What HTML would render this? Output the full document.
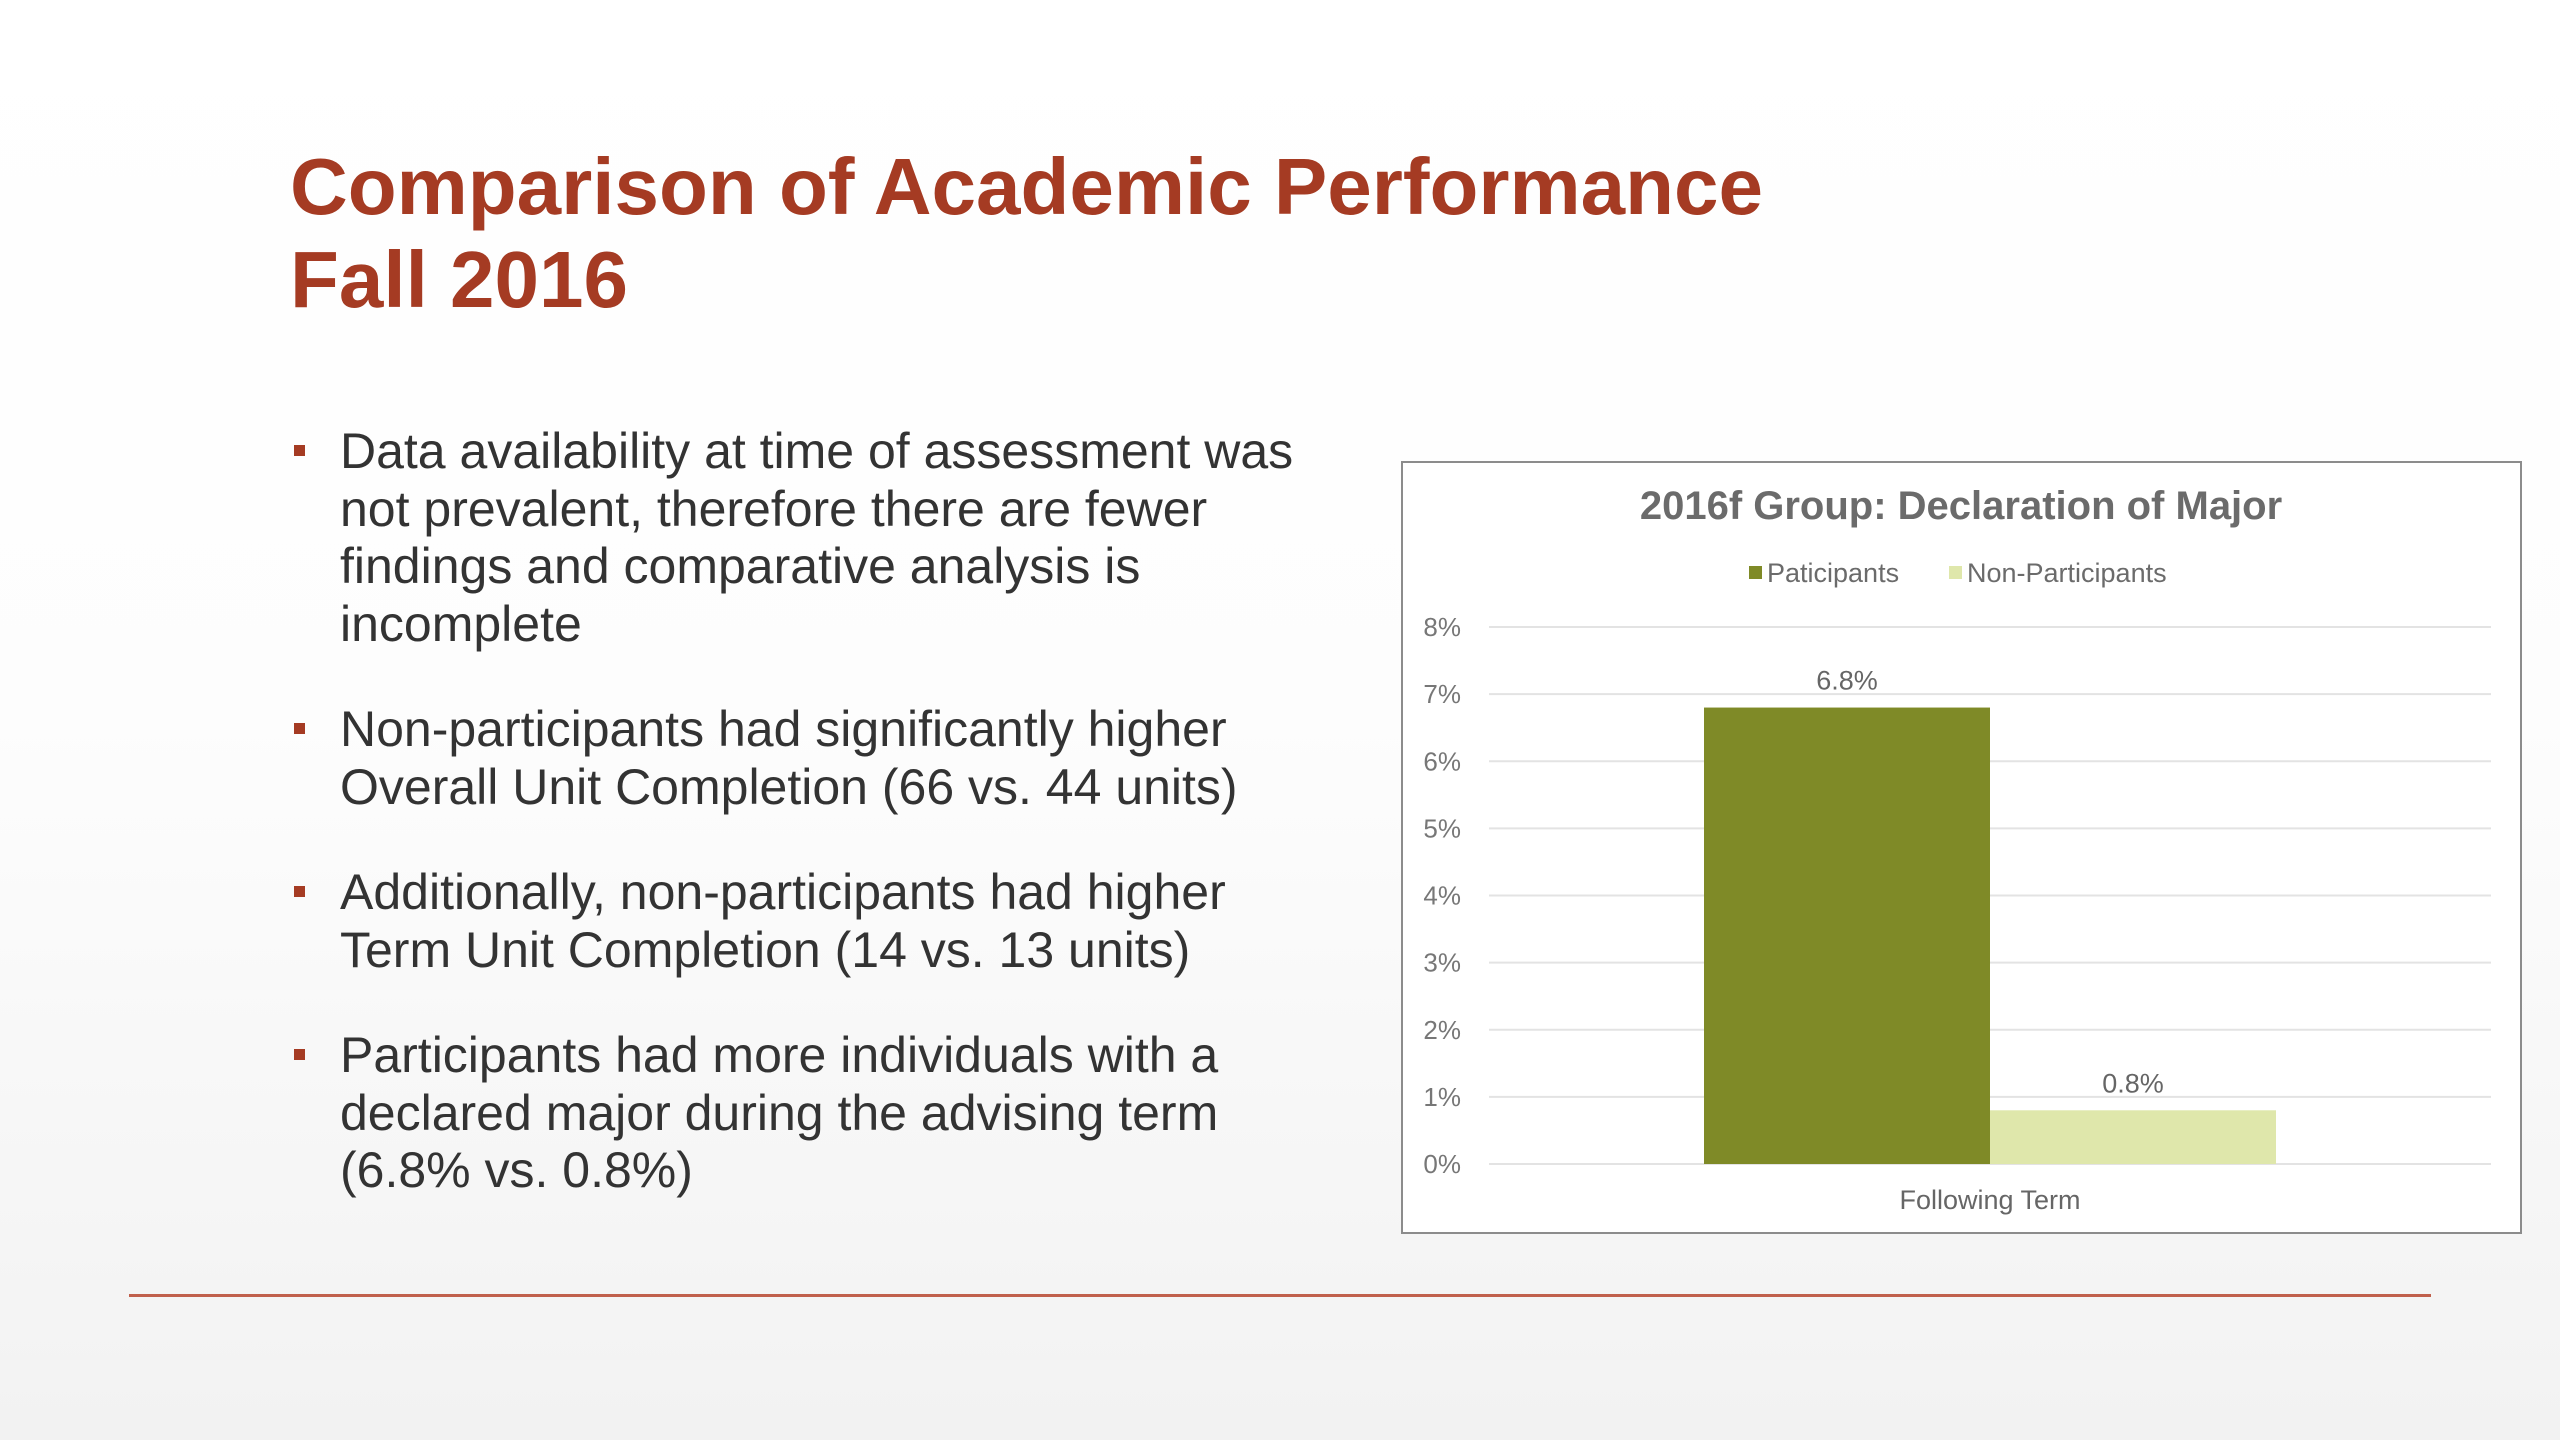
<!DOCTYPE html>
<html><head><meta charset="utf-8"><style>
html,body{margin:0;padding:0}
body{width:2560px;height:1440px;position:relative;overflow:hidden;font-family:"Liberation Sans",Arial,sans-serif;background:linear-gradient(180deg,#ffffff 0%,#fdfdfd 50%,#f2f2f2 100%)}
.title{position:absolute;left:290px;top:140px;color:#A53B23;font-weight:bold;font-size:80px;line-height:93px;margin:0;white-space:nowrap}
.bul{position:absolute;left:340px;color:#333;font-size:50px;line-height:57.5px;white-space:nowrap}
.mark{position:absolute;left:-46px;top:22px;width:11px;height:11px;background:#A53B23}
.rule{position:absolute;left:129px;top:1294px;width:2302px;height:3px;background:#C0604C}
</style></head><body>
<h1 class="title">Comparison of Academic Performance<br>Fall 2016</h1>
<div class="bul" style="top:423px"><span class="mark"></span>Data availability at time of assessment was<br>not prevalent, therefore there are fewer<br>findings and comparative analysis is<br>incomplete</div>
<div class="bul" style="top:701px"><span class="mark"></span>Non-participants had significantly higher<br>Overall Unit Completion (66 vs. 44 units)</div>
<div class="bul" style="top:864px"><span class="mark"></span>Additionally, non-participants had higher<br>Term Unit Completion (14 vs. 13 units)</div>
<div class="bul" style="top:1027px"><span class="mark"></span>Participants had more individuals with a<br>declared major during the advising term<br>(6.8% vs. 0.8%)</div>
<div class="rule"></div>
<svg id="chart" style="position:absolute;left:0;top:0" width="2560" height="1440" xmlns="http://www.w3.org/2000/svg"></svg>
<script>
const categories=["Following Term"];
const seriesNames=["Paticipants","Non-Participants"];
const participants=[6.8];
const nonParticipants=[0.8];
const valueLabels=["6.8%","0.8%"];
const yTicks=[0,1,2,3,4,5,6,7,8];
const tickLabels=["0%","1%","2%","3%","4%","5%","6%","7%","8%"];

const svg=document.getElementById('chart');
const NS="http://www.w3.org/2000/svg";
function mk(t,a){const e=document.createElementNS(NS,t);for(const k in a)e.setAttribute(k,a[k]);svg.appendChild(e);return e;}
const x0=1489,x1=2491,yTop=627,yBot=1164,yMax=8;
const y=v=>yBot-(v/yMax)*(yBot-yTop);
const catW=(x1-x0)/categories.length;
const cx=i=>x0+catW*(i+0.5);
const barW=286;

const box=mk('rect',{x:1402,y:462,width:1119,height:771,fill:'#fff',stroke:'#8c8c8c','stroke-width':2});


const title=mk('text',{x:1961,y:519,'text-anchor':'middle','font-size':40,'font-weight':'bold',fill:'#6b6b6b'});
title.textContent='2016f Group: Declaration of Major';



yTicks.forEach((t,i)=>{
  const g=mk('line',{x1:x0,x2:x1,y1:y(t),y2:y(t),stroke:'#e3e3e3','stroke-width':2});
  
  
  const l=mk('text',{x:1461,y:y(t)+9,'text-anchor':'end','font-size':26,fill:'#777'});
  l.textContent=tickLabels[i];
  
  
});

const colors=['#7F8A27','#DFE7AB'];
[participants,nonParticipants].forEach((s,si)=>{
  s.forEach((v,i)=>{
    const bx=cx(i)-barW+si*barW;
    const r=mk('rect',{x:bx,y:y(v),width:barW,height:yBot-y(v),fill:colors[si]});
    
    
    const t=mk('text',{x:bx+barW/2,y:y(v)-18,'text-anchor':'middle','font-size':27,fill:'#666'});
    t.textContent=valueLabels[si];
    
    
  });
});
categories.forEach((c,i)=>{
  const t=mk('text',{x:cx(i),y:1209,'text-anchor':'middle','font-size':27,fill:'#666'});
  t.textContent=c;
  
  
});
const legX=[1749,1949];
seriesNames.forEach((n,i)=>{
  const s=mk('rect',{x:legX[i],y:566,width:13,height:13,fill:colors[i]});
  
  
  const t=mk('text',{x:legX[i]+18,y:582,'font-size':27,fill:'#6b6b6b'});
  t.textContent=n;
  
  
});
</script>
</body></html>
